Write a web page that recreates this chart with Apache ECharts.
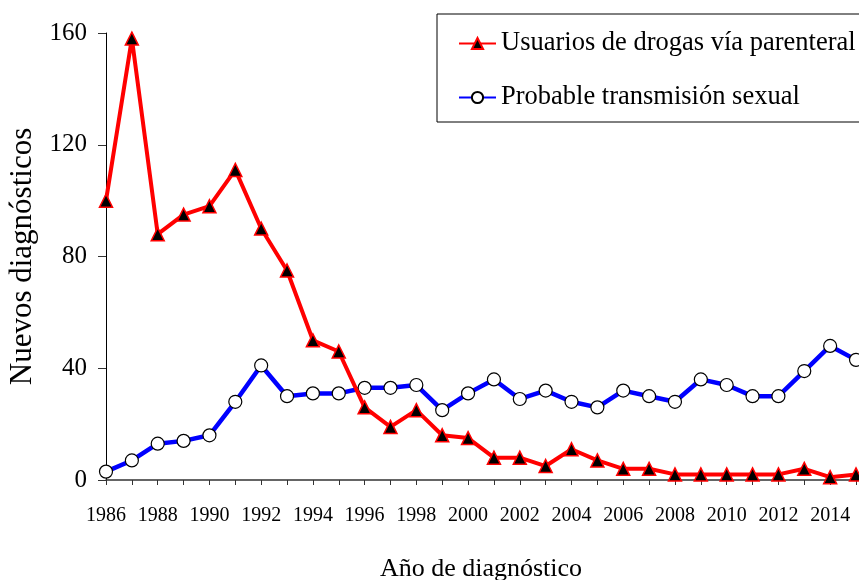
<!DOCTYPE html>
<html>
<head>
<meta charset="utf-8">
<script src="https://cdn.jsdelivr.net/npm/echarts@6/dist/echarts.min.js"></script>
<style>html,body{margin:0;padding:0;background:#fff;}#c{width:859px;height:580px;}</style>
</head>
<body>
<div id="c"></div>
<script>
const years = ['1986','1987','1988','1989','1990','1991','1992','1993','1994','1995','1996','1997','1998','1999','2000','2001','2002','2003','2004','2005','2006','2007','2008','2009','2010','2011','2012','2013','2014','2015'];
const udvp = [100,158,88,95,98,111,90,75,50,46,26,19,25,16,15,8,8,5,11,7,4,4,2,2,2,2,2,4,1,2];
const sexual = [3,7,13,14,16,28,41,30,31,31,33,33,34,25,31,36,29,32,28,26,32,30,28,36,34,30,30,39,48,43];
const seriesNames = ['Usuarios de drogas vía parenteral','Probable transmisión sexual'];
const yTicks = {min:0, max:160, interval:40};
const axisTitles = {x:'Año de diagnóstico', y:'Nuevos diagnósticos'};

const FONT = 'Liberation Serif';
const chart = echarts.init(document.getElementById('c'), null, {renderer:'canvas'});
chart.setOption({
  animation:false,
  backgroundColor:'#fff',
  grid:{left:106, right:3, top:33, bottom:100, containLabel:false, outerBoundsMode:'none'},
  legend:{
    orient:'vertical', left:437, top:14,
    padding:[16,40,11,21],
    borderColor:'#000', borderWidth:1,
    itemWidth:37, itemHeight:14, itemGap:27,
    textStyle:{fontFamily:FONT, fontSize:26.5, color:'#000'},
    data:seriesNames
  },
  xAxis:{
    type:'category', data:years, boundaryGap:false,
    name:axisTitles.x, nameLocation:'middle', nameGap:76,
    nameTextStyle:{fontFamily:FONT, fontSize:26, color:'#000'},
    axisLine:{lineStyle:{color:'#333', width:1.5}},
    axisTick:{interval:0, length:5, lineStyle:{color:'#333'}},
    axisLabel:{interval:1, margin:26, fontFamily:FONT, fontSize:20, color:'#000'},
    splitLine:{show:false}
  },
  yAxis:{
    type:'value', min:yTicks.min, max:yTicks.max, interval:yTicks.interval,
    name:axisTitles.y, nameLocation:'middle', nameGap:67, nameRotate:90,
    nameTextStyle:{fontFamily:FONT, fontSize:31, color:'#000'},
    axisLine:{show:true, lineStyle:{color:'#000', width:1}},
    axisTick:{show:true, length:8, lineStyle:{color:'#333'}},
    axisLabel:{margin:19, fontFamily:FONT, fontSize:25, color:'#000'},
    splitLine:{show:false}
  },
  series:[
    {
      name:seriesNames[0], type:'line', data:udvp,
      symbol:'triangle', symbolSize:13,
      lineStyle:{color:'#ff0000', width:4},
      itemStyle:{color:'#000', borderColor:'#ff0000', borderWidth:1.5},
      z:3
    },
    {
      name:seriesNames[1], type:'line', data:sexual,
      symbol:'circle', symbolSize:13,
      lineStyle:{color:'#0000ff', width:4.5},
      itemStyle:{color:'#fff', borderColor:'#000', borderWidth:1.2},
      z:2
    }
  ]
});
</script>
</body>
</html>
